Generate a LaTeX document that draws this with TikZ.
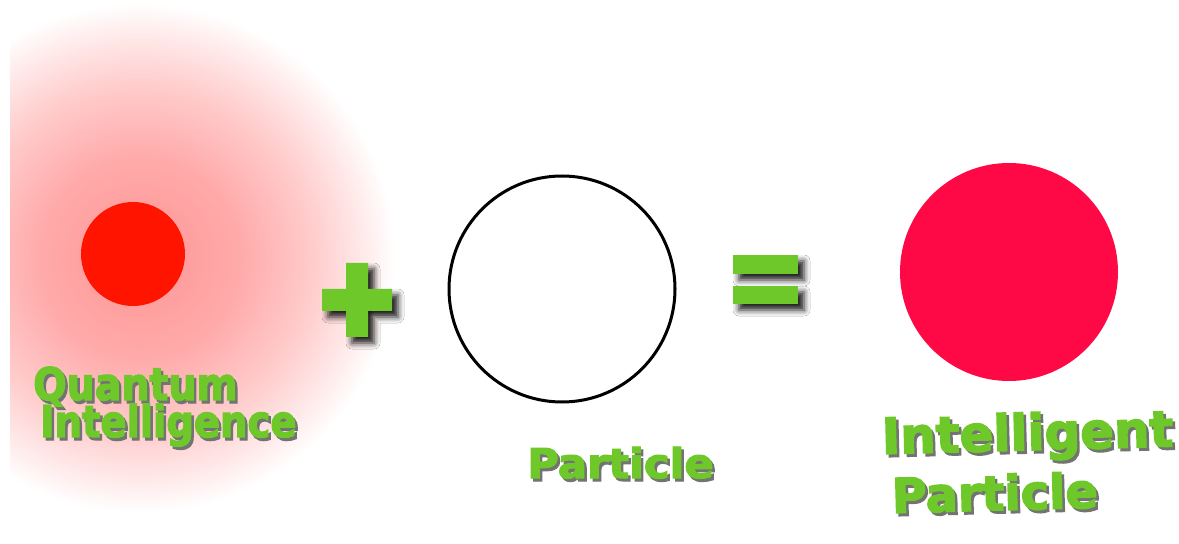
\documentclass[tikz,border=0pt]{standalone}
\usepackage{fontspec}
\newfontfamily\heavy[FakeBold=3,BoldFeatures={FakeBold=3}]{DejaVu Sans}
\usetikzlibrary{shadows.blur}
\definecolor{vert}{RGB}{110,200,42}
\definecolor{rouge}{RGB}{255,20,0}
\definecolor{rose}{RGB}{255,8,70}
\pgfdeclareradialshading{halo}{\pgfpoint{0bp}{0bp}}{color(0bp)=(red!42); color(10bp)=(red!33);
 color(17bp)=(red!20); color(22bp)=(red!8); color(25bp)=(white); color(50bp)=(white)}
\newcommand{\taille}[1]{\heavy\bfseries\fontsize{#1}{#1}\selectfont}
\newcommand{\mot}[4][]{\node[anchor=base west,inner sep=0pt,text=vert,#1] (#2) at (#3)
 	{\makebox[0pt][l]{\hspace{2.5bp}\raisebox{-3bp}{\color{black!55}#4}}#4}}
\tikzset{ombre/.style={blur shadow={shadow xshift=6bp,shadow yshift=-6bp,
 	shadow blur radius=6bp,shadow opacity=90}}}

\begin{document}
\begin{tikzpicture}[x=1bp,y=-1bp]
	\fill[white] (0,0) rectangle (1179,544);
	\useasboundingbox (0,0) rectangle (1179,544);
	\begin{scope}
		\clip (10,0) rectangle (1179,544);
		\shade[shading=halo] (140,258) circle (255);
	\end{scope}
	\fill[rouge] (133,254) circle (52);
	\fill[vert,ombre] (346,263) -- (368,263) -- (368,289) -- (392,289) -- (392,311)
		-- (368,311) -- (368,337) -- (346,337) -- (346,311) -- (322,311) -- (322,289)
		-- (346,289) -- cycle;
	\draw[line width=3bp] (562,289) circle (113);
	\fill[vert,ombre] (733,255) rectangle (798,274);
	\fill[vert,ombre] (733,286) rectangle (798,304);
	\fill[rose] (1009,272) circle (109);
	\mot{quantum}{33,400}{\taille{45}\scalebox{.88}[1]{Quantum}};
	\mot{intel}{40,437}{\taille{44}\scalebox{.88}[1]{Intelligence}};
	\mot{part}{527,478}{\taille{41}\scalebox{1.06}[1]{Particle}};
	\mot[rotate=1.5]{intelr}{882,454}{\taille{50}Intelligent};
	\mot[rotate=1.5]{partr}{892,513}{\taille{48}Particle};
\end{tikzpicture}
\end{document}
